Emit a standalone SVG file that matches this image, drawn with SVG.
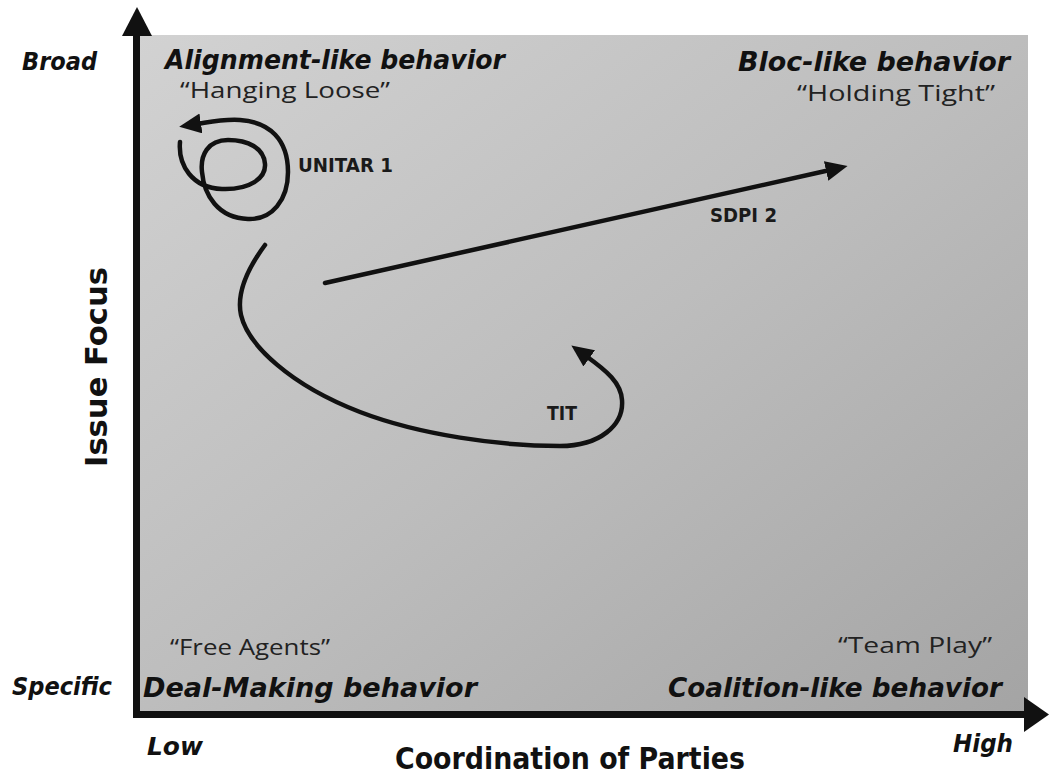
<svg xmlns="http://www.w3.org/2000/svg" width="1049" height="777" viewBox="0 0 1049 777">
<defs>
<linearGradient id="bg" x1="0" y1="0" x2="1" y2="1">
<stop offset="0" stop-color="#d2d2d2"/>
<stop offset="0.5" stop-color="#bdbdbd"/>
<stop offset="1" stop-color="#a4a4a4"/>
</linearGradient>
<marker id="ah" markerUnits="userSpaceOnUse" markerWidth="24" markerHeight="22" refX="4" refY="10" orient="auto">
<path d="M0,0 L22,10 L0,20 z" fill="#111"/>
</marker>
<style>
.ax{font-family:"DejaVu Sans","Liberation Sans",sans-serif;font-weight:bold;font-style:italic;font-size:24px;fill:#111}
.qt{font-family:"DejaVu Sans","Liberation Sans",sans-serif;font-weight:bold;font-style:italic;font-size:27px;fill:#111}
.hw{font-family:"Open Sans","DejaVu Sans",sans-serif;font-size:21px;fill:#222}
.lb{font-family:"DejaVu Sans","Liberation Sans",sans-serif;font-weight:bold;font-size:20px;fill:#1a1a1a}
.tt{font-family:"DejaVu Sans","Liberation Sans",sans-serif;font-weight:bold;font-size:31px;fill:#111}
.cv{fill:none;stroke:#111;stroke-width:4.5;stroke-linecap:round;stroke-linejoin:round}
</style>
</defs>
<rect width="1049" height="777" fill="#fff"/>
<g id="plot-area">
<rect x="137" y="35" width="891" height="679" fill="url(#bg)"/>
</g>
<g id="axes" fill="#111">
<rect x="133" y="33" width="7" height="685"/>
<polygon points="122,36 137,7 152,36"/>
<rect x="133" y="711" width="894" height="7"/>
<polygon points="1024,697 1049,714.5 1024,732"/>
</g>
<g id="y-axis-labels">
<text class="ax" x="22" y="70" textLength="75" lengthAdjust="spacingAndGlyphs">Broad</text>
<text class="ax" x="12" y="695" textLength="100" lengthAdjust="spacingAndGlyphs">Specific</text>
<text class="tt" transform="translate(107,367) rotate(-90)" text-anchor="middle" font-size="33" textLength="200" lengthAdjust="spacingAndGlyphs">Issue Focus</text>
</g>
<g id="x-axis-labels">
<text class="ax" x="147" y="755" textLength="56" lengthAdjust="spacingAndGlyphs">Low</text>
<text class="ax" x="953" y="752" textLength="60" lengthAdjust="spacingAndGlyphs">High</text>
<text class="tt" x="395" y="769" textLength="350" lengthAdjust="spacingAndGlyphs">Coordination of Parties</text>
</g>
<g id="q-alignment">
<text class="qt" x="165" y="69" font-size="26" textLength="340" lengthAdjust="spacingAndGlyphs">Alignment-like behavior</text>
<text class="hw" x="180" y="98" textLength="210" lengthAdjust="spacingAndGlyphs">“Hanging Loose”</text>
</g>
<g id="q-bloc">
<text class="qt" x="738" y="71" font-size="26" textLength="272" lengthAdjust="spacingAndGlyphs">Bloc-like behavior</text>
<text class="hw" x="797" y="101" textLength="198" lengthAdjust="spacingAndGlyphs">“Holding Tight”</text>
</g>
<g id="q-deal">
<text class="hw" x="170" y="655" textLength="160" lengthAdjust="spacingAndGlyphs">“Free Agents”</text>
<text class="qt" x="143" y="697" textLength="334" lengthAdjust="spacingAndGlyphs">Deal-Making behavior</text>
</g>
<g id="q-coalition">
<text class="hw" x="838" y="653" textLength="154" lengthAdjust="spacingAndGlyphs">“Team Play”</text>
<text class="qt" x="668" y="697" textLength="334" lengthAdjust="spacingAndGlyphs">Coalition-like behavior</text>
</g>
<g id="connectors">
<path id="unitar1" class="cv" marker-end="url(#ah)" d="M180,142 C178,165 192,188 222,189 C250,190 266,178 265,164 C264,148 248,140 228,140 C208,140 200,155 202,172 C204,195 218,218 248,219 C272,220 288,200 288,172 C288,140 270,122 240,120 C222,119 210,122 197,124"/>
<path id="sdpi2" class="cv" marker-end="url(#ah)" d="M325,283 L830,170"/>
<path id="tit" class="cv" marker-end="url(#ah)" d="M265,245 C248,268 236,292 241,315 C248,345 290,385 360,412 C420,435 500,446 560,446 C600,446 624,425 622,400 C621,383 607,371 586,356"/>
</g>
<g id="label-unitar1"><text class="lb" x="298" y="172" textLength="95" lengthAdjust="spacingAndGlyphs">UNITAR 1</text></g>
<g id="label-sdpi2"><text class="lb" x="710" y="222" textLength="67" lengthAdjust="spacingAndGlyphs">SDPI 2</text></g>
<g id="label-tit"><text class="lb" x="547" y="420" font-size="17" textLength="30" lengthAdjust="spacingAndGlyphs">TIT</text></g>
</svg>
